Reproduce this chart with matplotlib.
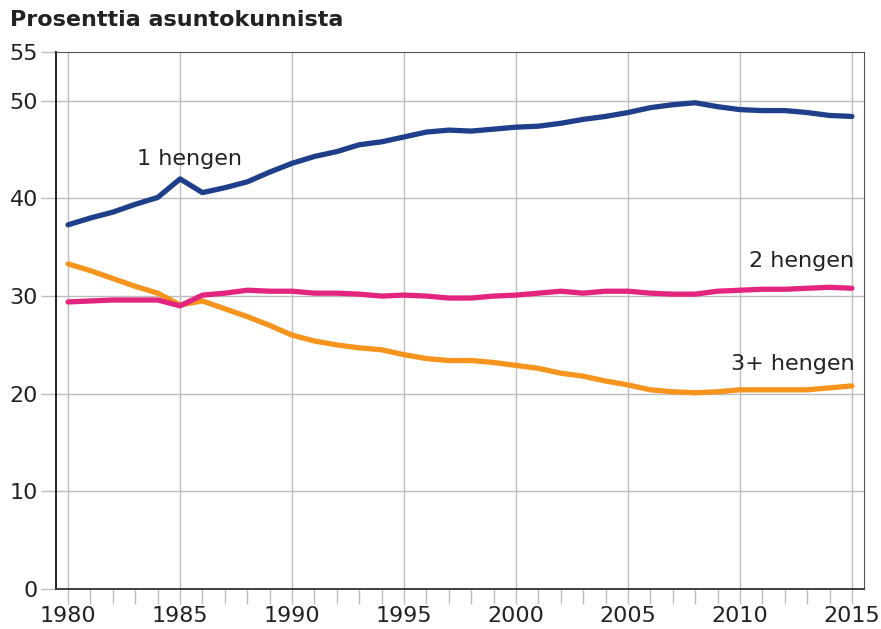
import numpy as np
import matplotlib
matplotlib.use("Agg")
import matplotlib.pyplot as plt
from matplotlib.ticker import MultipleLocator

years = list(range(1980, 2016))
one_person = [37.3, 38.0, 38.6, 39.4, 40.1, 42.0, 40.6, 41.1, 41.7, 42.7,
              43.6, 44.3, 44.8, 45.5, 45.8, 46.3, 46.8, 47.0, 46.9, 47.1,
              47.3, 47.4, 47.7, 48.1, 48.4, 48.8, 49.3, 49.6, 49.8, 49.4,
              49.1, 49.0, 49.0, 48.8, 48.5, 48.4]
two_person = [29.4, 29.5, 29.6, 29.6, 29.6, 29.0, 30.1, 30.3, 30.6, 30.5,
              30.5, 30.3, 30.3, 30.2, 30.0, 30.1, 30.0, 29.8, 29.8, 30.0,
              30.1, 30.3, 30.5, 30.3, 30.5, 30.5, 30.3, 30.2, 30.2, 30.5,
              30.6, 30.7, 30.7, 30.8, 30.9, 30.8]
three_plus = [33.3, 32.6, 31.8, 31.0, 30.3, 29.1, 29.5, 28.7, 27.9, 27.0,
              26.0, 25.4, 25.0, 24.7, 24.5, 24.0, 23.6, 23.4, 23.4, 23.2,
              22.9, 22.6, 22.1, 21.8, 21.3, 20.9, 20.4, 20.2, 20.1, 20.2,
              20.4, 20.4, 20.4, 20.4, 20.6, 20.8]

yticks = [0, 10, 20, 30, 40, 50, 55]
xticks = [1980, 1985, 1990, 1995, 2000, 2005, 2010, 2015]

blue = "#1f3f8a"
pink = "#e3257f"
orange = "#f7941d"
grid_c = "#bdbdbd"
txt_c = "#222222"

fig = plt.figure(figsize=(8.81, 6.29), dpi=100)
ax = fig.add_axes([56/881, 1-589/629, (864-56)/881, (589-52)/629])

ax.set_xlim(1979.46, 2015.54)
ax.set_ylim(0, 55)

for v in xticks:
    ax.axvline(v, color=grid_c, lw=1.0, zorder=1)
for v in yticks[1:-1]:
    ax.axhline(v, color=grid_c, lw=1.0, zorder=1)

ax.plot(years, three_plus, color=orange, lw=3.8, solid_capstyle="round", zorder=3)
ax.plot(years, two_person, color=pink, lw=3.8, solid_capstyle="round", zorder=4)
ax.plot(years, one_person, color=blue, lw=3.8, solid_capstyle="round", zorder=5)

ax.set_xticks(xticks)
ax.xaxis.set_minor_locator(MultipleLocator(1))
ax.set_yticks(yticks)
ax.tick_params(axis="x", which="both", direction="out", length=11, width=1,
               color=grid_c, labelsize=16, labelcolor=txt_c, pad=1)
ax.tick_params(axis="y", direction="out", length=11, width=1, color=grid_c,
               labelsize=16, labelcolor=txt_c, pad=2)

ax.spines["left"].set_color("#111111")
ax.spines["left"].set_linewidth(1.3)
ax.spines["bottom"].set_color("#333333")
ax.spines["bottom"].set_linewidth(1.3)
ax.spines["top"].set_color("#555555")
ax.spines["right"].set_color("#555555")

ax.text(1985.4, 44.0, "1 hengen", fontsize=16, color=txt_c, ha="center", va="center")
ax.text(2015.1, 33.6, "2 hengen", fontsize=16, color=txt_c, ha="right", va="center")
ax.text(2015.1, 23.0, "3+ hengen", fontsize=16, color=txt_c, ha="right", va="center")

fig.text(10/881, 1-20/629, "Prosenttia asuntokunnista", fontsize=16,
         fontweight="bold", color=txt_c, ha="left", va="center")

fig.savefig("out.png", dpi=100)
